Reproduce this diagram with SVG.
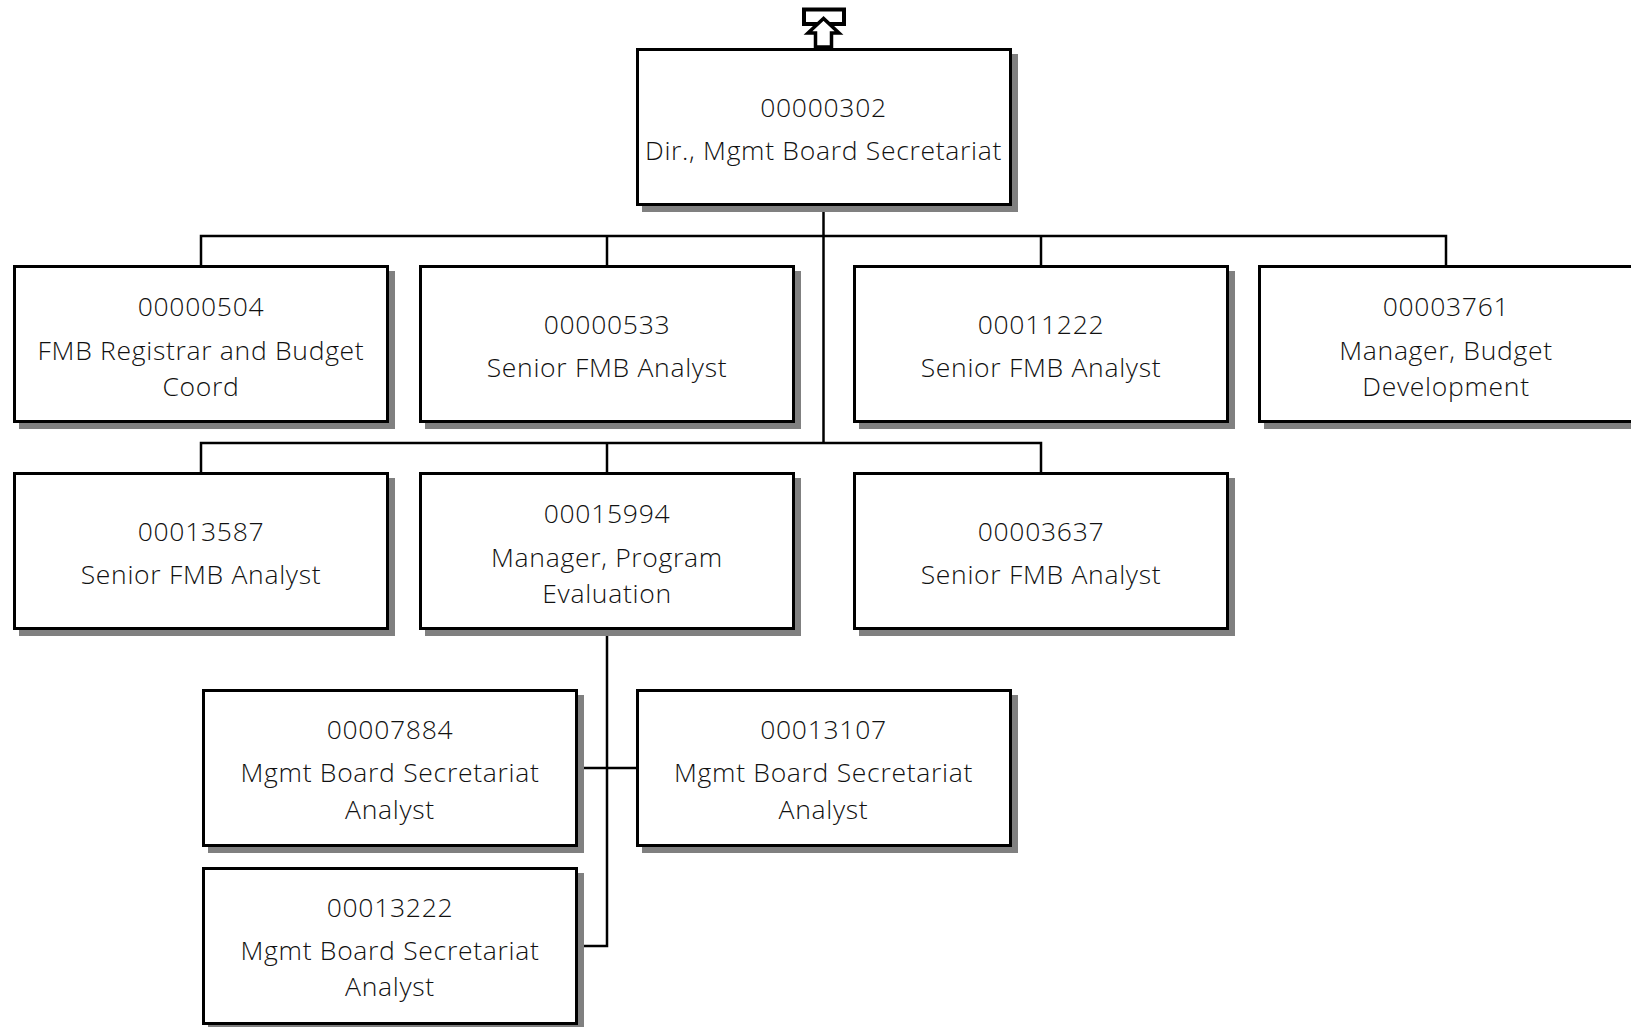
<svg xmlns="http://www.w3.org/2000/svg" width="1631" height="1027" viewBox="0 0 1631 1027">
<style>
.sh{fill:#808080}
.bx{fill:#fff;stroke:#000;stroke-width:3}
.t{font-family:"Open Sans","Liberation Sans",sans-serif;font-weight:300;font-size:26.5px;letter-spacing:0.7px;fill:#111;text-anchor:middle}
.c{fill:none;stroke:#000;stroke-width:2.5}
</style>
<rect width="1631" height="1027" fill="#fff"/>
<g id="connectors" class="c">
<path d="M823.5 206V443"/>
<path d="M201 265V236H1446V265"/>
<path d="M607 236V265"/>
<path d="M1041 236V265"/>
<path d="M201 472V443H1041V472"/>
<path d="M607 443V472"/>
<path d="M607 630V946H577"/>
<path d="M577 768H636"/>
</g>
<g id="up-icon">
<rect x="804" y="9.5" width="40" height="14.5" fill="#fff" stroke="#000" stroke-width="4"/>
<path d="M823.5 18.5L808 33H815.5V47H831.5V33H839Z" fill="#fff" stroke="#000" stroke-width="3.5" stroke-linejoin="miter"/>
</g>
<g id="n00000302">
<rect class="sh" x="642" y="54" width="376" height="158"/>
<rect class="bx" x="637.5" y="49.5" width="373" height="155"/>
<text class="t" x="823.5" y="117">00000302</text>
<text class="t" x="823.5" y="160">Dir., Mgmt Board Secretariat</text>
</g>
<g id="n00000504">
<rect class="sh" x="19" y="271" width="376" height="158"/>
<rect class="bx" x="14.5" y="266.5" width="373" height="155"/>
<text class="t" x="201" y="316">00000504</text>
<text class="t" x="201" y="359.5">FMB Registrar and Budget</text>
<text class="t" x="201" y="396">Coord</text>
</g>
<g id="n00000533">
<rect class="sh" x="425" y="271" width="376" height="158"/>
<rect class="bx" x="420.5" y="266.5" width="373" height="155"/>
<text class="t" x="607" y="334">00000533</text>
<text class="t" x="607" y="377">Senior FMB Analyst</text>
</g>
<g id="n00011222">
<rect class="sh" x="859" y="271" width="376" height="158"/>
<rect class="bx" x="854.5" y="266.5" width="373" height="155"/>
<text class="t" x="1041" y="334">00011222</text>
<text class="t" x="1041" y="377">Senior FMB Analyst</text>
</g>
<g id="n00003761">
<rect class="sh" x="1264" y="271" width="376" height="158"/>
<rect class="bx" x="1259.5" y="266.5" width="373" height="155"/>
<text class="t" x="1446" y="316">00003761</text>
<text class="t" x="1446" y="359.5">Manager, Budget</text>
<text class="t" x="1446" y="396">Development</text>
</g>
<g id="n00013587">
<rect class="sh" x="19" y="478" width="376" height="158"/>
<rect class="bx" x="14.5" y="473.5" width="373" height="155"/>
<text class="t" x="201" y="541">00013587</text>
<text class="t" x="201" y="584">Senior FMB Analyst</text>
</g>
<g id="n00015994">
<rect class="sh" x="425" y="478" width="376" height="158"/>
<rect class="bx" x="420.5" y="473.5" width="373" height="155"/>
<text class="t" x="607" y="523">00015994</text>
<text class="t" x="607" y="566.5">Manager, Program</text>
<text class="t" x="607" y="603">Evaluation</text>
</g>
<g id="n00003637">
<rect class="sh" x="859" y="478" width="376" height="158"/>
<rect class="bx" x="854.5" y="473.5" width="373" height="155"/>
<text class="t" x="1041" y="541">00003637</text>
<text class="t" x="1041" y="584">Senior FMB Analyst</text>
</g>
<g id="n00007884">
<rect class="sh" x="208" y="695" width="376" height="158"/>
<rect class="bx" x="203.5" y="690.5" width="373" height="155"/>
<text class="t" x="390" y="739">00007884</text>
<text class="t" x="390" y="782">Mgmt Board Secretariat</text>
<text class="t" x="390" y="819">Analyst</text>
</g>
<g id="n00013107">
<rect class="sh" x="642" y="695" width="376" height="158"/>
<rect class="bx" x="637.5" y="690.5" width="373" height="155"/>
<text class="t" x="823.5" y="739">00013107</text>
<text class="t" x="823.5" y="782">Mgmt Board Secretariat</text>
<text class="t" x="823.5" y="819">Analyst</text>
</g>
<g id="n00013222">
<rect class="sh" x="208" y="873" width="376" height="158"/>
<rect class="bx" x="203.5" y="868.5" width="373" height="155"/>
<text class="t" x="390" y="917">00013222</text>
<text class="t" x="390" y="960">Mgmt Board Secretariat</text>
<text class="t" x="390" y="996">Analyst</text>
</g>
</svg>
